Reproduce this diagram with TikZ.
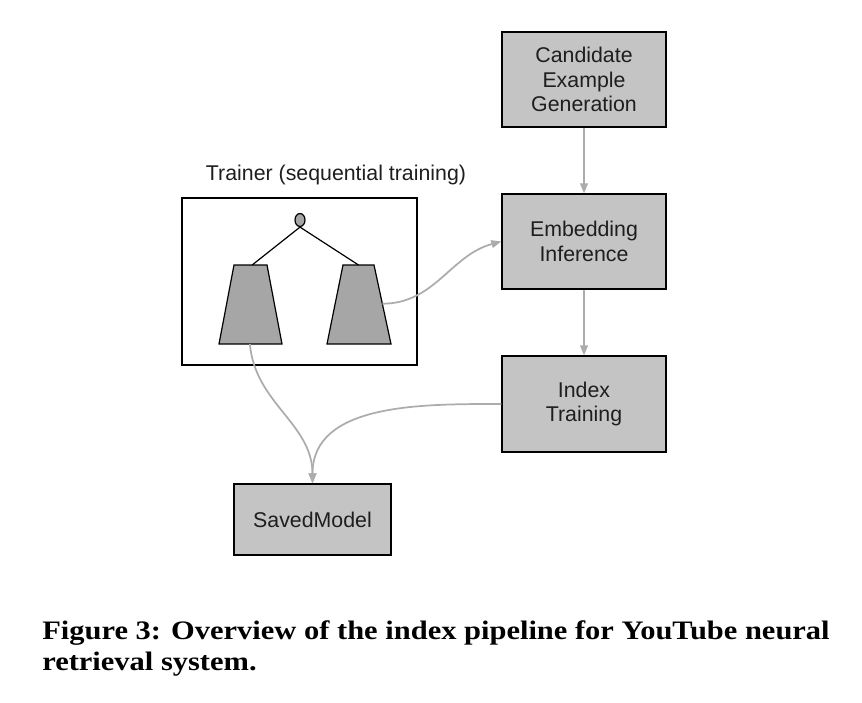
\documentclass[tikz,border=0pt]{standalone}
\usepackage{fontspec}
\setmainfont{Liberation Sans}
\newfontfamily\capfont{Liberation Serif}
\usetikzlibrary{arrows.meta,shapes.geometric,calc}

\definecolor{boxgray}{RGB}{196,196,196}
\definecolor{towergray}{RGB}{166,166,166}
\definecolor{linkgray}{RGB}{172,172,172}
\definecolor{txtgray}{RGB}{30,30,30}

\tikzset{
    stagebox/.style={draw=black, line width=1pt, fill=boxgray, text=txtgray,
        align=center, inner sep=0pt, font=\fontsize{16}{18.4}\selectfont},
    tower/.style={draw=black, line width=0.9pt, fill=towergray},
    flow/.style={draw=linkgray, line width=1.3pt, -{Triangle[length=7.5pt,width=5.8pt]}}
}

\begin{document}
\begin{tikzpicture}[x=0.75pt,y=0.75pt]
            % 画布范围
            \useasboundingbox (0,0) rectangle (862,-702);

            % 流水线方框
            \node[stagebox, minimum width=164*0.75pt, minimum height=95*0.75pt] (cand) at (584,-79.5) {Candidate\\Example\\Generation};
            \node[stagebox, minimum width=164*0.75pt, minimum height=95*0.75pt] (embed) at (584,-241.5) {Embedding\\Inference};
            \node[stagebox, minimum width=164*0.75pt, minimum height=96*0.75pt] (index) at (584,-404) {Index\\Training};
            \node[stagebox, minimum width=157*0.75pt, minimum height=71*0.75pt] (saved) at (312.5,-519.5) {SavedModel};

            % 训练器外框和标题
            \node[draw=black, line width=1pt, minimum width=235*0.75pt, minimum height=167*0.75pt, inner sep=0pt] (trainer) at (299.5,-281.5) {};
            \node[text=txtgray, font=\fontsize{16}{18.4}\selectfont] (trainlabel) at (336,-175) {Trainer (sequential training)};

            % 两个塔和顶点
            \coordinate (L1) at (219,-344);
            \coordinate (L2) at (234,-265);
            \coordinate (L3) at (267,-265);
            \coordinate (L4) at (282,-344);
            \coordinate (R1) at (327,-344);
            \coordinate (R2) at (343,-265);
            \coordinate (R3) at (374,-265);
            \coordinate (R4) at (391,-344);
            \draw[tower] (L1) -- (L2) -- (L3) -- (L4) -- cycle;
            \draw[tower] (R1) -- (R2) -- (R3) -- (R4) -- cycle;
            \node[draw=black, line width=0.9pt, fill=towergray, ellipse, minimum width=10*0.75pt, minimum height=13*0.75pt, inner sep=0pt] (root) at (300,-220) {};
            \coordinate (LT) at ($(L2)!0.55!(L3)$);
            \coordinate (RT) at ($(R2)!0.5!(R3)$);
            \draw[line width=0.9pt] (LT) -- (root.south) -- (RT);

            % 塔的出口
            \coordinate (Lout) at ($(L1)!0.49!(L4)$);
            \coordinate (Rout) at ($(R3)!0.49!(R4)$);

            % 连线
            \draw[flow] (cand) -- (embed);
            \draw[flow] (embed) -- (index);
            \draw[flow] (Rout) to[out=0, in=195] (embed.west);
            \draw[flow] (Lout) to[out=-85, in=90] (saved.north);
            \draw[flow] (index.west) to[out=180, in=90] (saved.north);

            % 图题
            \node[anchor=north west, inner sep=0pt, font=\capfont\bfseries\fontsize{20}{23.2}\selectfont] (caption) at (42,-618)
                {\scalebox{1.143}[1]{\begin{tabular}{@{}l@{}}Figure 3: Overview of the index pipeline for YouTube neural\\retrieval system.\end{tabular}}};
\end{tikzpicture}
\end{document}
